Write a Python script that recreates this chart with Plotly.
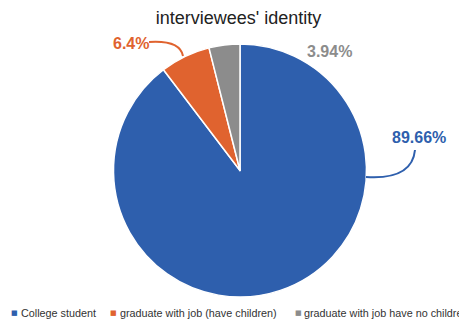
import plotly.graph_objects as go

categories = ["College student", "graduate with job (have children)", "graduate with job have no children"]
values = [89.66, 6.4, 3.94]
label_texts = ["89.66%", "6.4%", "3.94%"]
colors = ["#2E5FAD", "#E0632F", "#8C8C8C"]

# page has an 8px body margin, so the figure is drawn offset by (8, 8)
OFF = 8
W, H = 467 - OFF, 321 - OFF

def px(x, y):
    return (x - OFF) / W, 1 - (y - OFF) / H

dx0, dy1 = px(112, 44)
dx1, dy0 = px(368, 297)
fig = go.Figure(go.Pie(
    labels=categories, values=values, sort=False, direction="clockwise", rotation=0,
    marker=dict(colors=colors, line=dict(color="white", width=1.5)),
    textinfo="none", hoverinfo="label+percent", showlegend=False,
    domain=dict(x=[dx0, dx1], y=[dy0, dy1]),
))

font = "Liberation Sans, Arial, sans-serif"
ann_pos = [(419, 137), (131, 43), (329, 51)]
for txt, col, (x, y) in zip(label_texts, colors, ann_pos):
    ax, ay = px(x, y)
    fig.add_annotation(x=ax, y=ay, xref="paper", yref="paper", text=f"<b>{txt}</b>", showarrow=False,
                       font=dict(family=font, size=16, color=col), xanchor="center", yanchor="middle")

def path(pts):
    (x0, y0), (cx, cy), (x1, y1) = [px(*p) for p in pts]
    return f"M {x0},{y0} Q {cx},{cy} {x1},{y1}"

fig.add_shape(type="path", xref="paper", yref="paper", path=path([(366, 177), (412, 180), (415, 150)]),
              line=dict(color=colors[0], width=2))
fig.add_shape(type="path", xref="paper", yref="paper", path=path([(149, 42), (180, 40), (183, 56)]),
              line=dict(color=colors[1], width=2))

# legend drawn as text entries
leg_marker_x = [14, 113, 298]
leg_text_x = [19, 118, 302]
leg_y = 313
for cat, col, mx, tx in zip(categories, colors, leg_marker_x, leg_text_x):
    mxp, myp = px(mx, leg_y)
    fig.add_annotation(x=mxp, y=myp, xref="paper", yref="paper", text="■", showarrow=False,
                       font=dict(family="DejaVu Sans", size=7, color=col), xanchor="center", yanchor="middle")
    txp, typ = px(tx, leg_y)
    fig.add_annotation(x=txp, y=typ, xref="paper", yref="paper", text=cat, showarrow=False,
                       font=dict(family=font, size=10.8, color="#333333"), xanchor="left", yanchor="middle")

tx, ty = px(238.5, 18)
fig.update_layout(
    width=W, height=H, margin=dict(l=0, r=0, t=0, b=0),
    paper_bgcolor="white", plot_bgcolor="white",
    title=dict(text="interviewees' identity", x=tx, xanchor="center", y=ty, yanchor="middle",
               font=dict(family=font, size=18, color="#222222")),
    showlegend=False,
)

fig.write_html("out.html")
